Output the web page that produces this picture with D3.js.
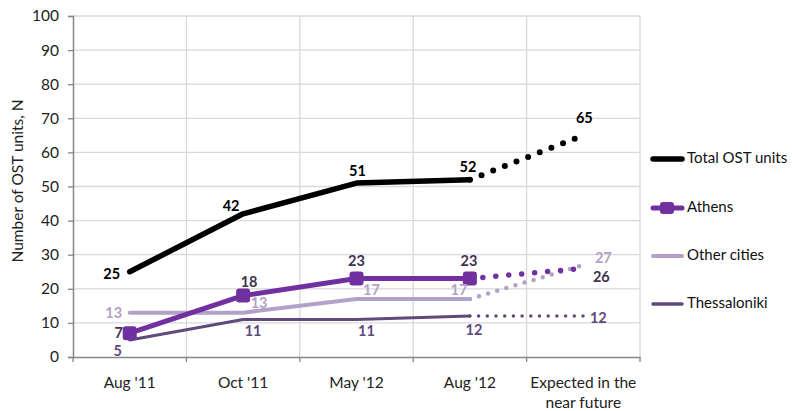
<!DOCTYPE html>
<html><head><meta charset="utf-8">
<script src="https://cdn.jsdelivr.net/npm/d3@7"></script>
<style>body{margin:0;background:#fff}svg{display:block}text{font-family:Lato,"Open Sans",sans-serif}</style>
</head><body><svg id="c" width="792" height="411"></svg>
<script>
const categories = ["Aug '11","Oct '11","May '12","Aug '12","Expected in the|near future"];
const yTicks = [0,10,20,30,40,50,60,70,80,90,100];
const totalValues = [25,42,51,52,65];
const athensValues = [7,18,23,23,26];
const otherValues = [13,13,17,17,27];
const thessValues = [5,11,11,12,12];
const seriesNames = ["Total OST units","Athens","Other cities","Thessaloniki"];

// styling / label placement (offsets in px from the point)
const series = [
  {name:seriesNames[0], values:totalValues, color:"#000000", label:"#000000", w:5.5, dot:6, gap:12.5, marker:false,
   off:[[-18,4],[-12,-6],[1,-11],[-2,-11],[1,-16]]},
  {name:seriesNames[1], values:athensValues, color:"#7030A0", label:"#403152", w:5, dot:5.5, gap:13, marker:true,
   off:[[-11,1.5],[6,-12],[0,-16],[-1,-16],[18,10]]},
  {name:seriesNames[2], values:otherValues, color:"#B3A2C7", label:"#B3A2C7", w:4, dot:4.5, gap:9.5, marker:false,
   off:[[-16,2],[16,-8],[15,-8],[-11,-8],[20,-6]]},
  {name:seriesNames[3], values:thessValues, color:"#604A7B", label:"#604A7B", w:3, dot:3.5, gap:8.7, marker:false,
   off:[[-12,12],[10,13],[10,13],[4,15],[15,3]]}
];
const drawOrder = [3,2,1,0];

const svg = d3.select("#c");
const m = {l:73, r:640, t:16, b:357};
const x = d3.scaleBand().domain(d3.range(categories.length)).range([m.l, m.r]);
const y = d3.scaleLinear().domain([0,100]).range([m.b, m.t]);
const cx = i => x(i) + x.bandwidth()/2;

// gridlines
const g = svg.append("g");
g.selectAll(".hg").data(yTicks.filter(d=>d>0)).join("line")
  .attr("x1", m.l).attr("x2", m.r).attr("y1", d=>y(d)).attr("y2", d=>y(d))
  .attr("stroke","#D9D9D9").attr("stroke-width",1.3);
g.selectAll(".vg").data(d3.range(1, categories.length+1)).join("line")
  .attr("x1", i=>m.l + i*x.bandwidth()).attr("x2", i=>m.l + i*x.bandwidth())
  .attr("y1", m.t).attr("y2", m.b).attr("stroke","#D9D9D9").attr("stroke-width",1.3);

// y axis
const ya = svg.append("g").attr("transform",`translate(${m.l},0)`)
  .call(d3.axisLeft(y).tickValues(yTicks).tickSize(5).tickPadding(9));
ya.select(".domain").attr("stroke","#868686").attr("stroke-width",1.5);
ya.selectAll(".tick line").attr("stroke","#868686").attr("stroke-width",1.3);
ya.selectAll(".tick text").attr("font-size",15.5).attr("fill","#222").attr("font-family","Lato,sans-serif");

// x axis
const xa = svg.append("g").attr("transform",`translate(0,${m.b})`)
  .call(d3.axisBottom(x).tickSize(0).tickFormat(""));
xa.select(".domain").attr("stroke","#868686").attr("stroke-width",1.5);
svg.selectAll(".xt").data(d3.range(0, categories.length+1)).join("line")
  .attr("x1", i=>m.l + i*x.bandwidth()).attr("x2", i=>m.l + i*x.bandwidth())
  .attr("y1", m.b).attr("y2", m.b+5).attr("stroke","#868686").attr("stroke-width",1.3);
categories.forEach((c,i)=>{
  const t = svg.append("text").attr("x", cx(i)).attr("y", 388).attr("text-anchor","middle")
    .attr("font-size",15.5).attr("fill","#222");
  c.split("|").forEach((ln,j)=> t.append("tspan").attr("x", cx(i)).attr("dy", j? 20:0).text(ln));
});

// y title
svg.append("text").attr("transform","translate(23,181) rotate(-90)").attr("text-anchor","middle")
  .attr("font-size",15.5).attr("fill","#222").text("Number of OST units, N");

// lines
const line = d3.line().x(d=>cx(d.i)).y(d=>y(d.v));
drawOrder.forEach(k=>{
  const s = series[k];
  const pts = s.values.map((v,i)=>({i,v}));
  svg.append("path").attr("d", line(pts.slice(0,4))).attr("fill","none")
    .attr("stroke", s.color).attr("stroke-width", s.w).attr("stroke-linecap","round").attr("stroke-linejoin","round");
  svg.append("path").attr("d", line(pts.slice(3))).attr("fill","none")
    .attr("stroke", s.color).attr("stroke-width", s.dot).attr("stroke-linecap","round")
    .attr("stroke-dasharray", `0 ${s.gap}`).attr("stroke-dashoffset", -s.gap);
  if (s.marker) {
    svg.selectAll(null).data(pts.slice(0,4)).join("rect")
      .attr("x", d=>cx(d.i)-7).attr("y", d=>y(d.v)-7).attr("width",14).attr("height",14)
      .attr("rx",3).attr("fill", s.color);
  }
});
// labels
drawOrder.forEach(k=>{
  const s = series[k];
  s.values.forEach((v,i)=>{
    svg.append("text").attr("x", cx(i)+s.off[i][0]).attr("y", y(v)+s.off[i][1])
      .attr("text-anchor","middle").attr("dominant-baseline","middle")
      .attr("font-size",14.5).attr("font-weight","bold").attr("fill", s.label).text(v);
  });
});

// legend
const ly = [159,208,256,304];
series.forEach((s,k)=>{
  const gy = ly[k];
  svg.append("line").attr("x1",653).attr("x2",682).attr("y1",gy).attr("y2",gy)
    .attr("stroke", s.color).attr("stroke-width", k===0?5.5:(k===1?5:(k===2?4:3.5))).attr("stroke-linecap","round");
  if (s.marker) svg.append("rect").attr("x",660).attr("y",gy-6).attr("width",14).attr("height",12).attr("rx",3).attr("fill",s.color);
  svg.append("text").attr("x",687).attr("y",gy).attr("dominant-baseline","middle")
    .attr("font-size",15).attr("fill","#111").text(s.name);
});
</script></body></html>
